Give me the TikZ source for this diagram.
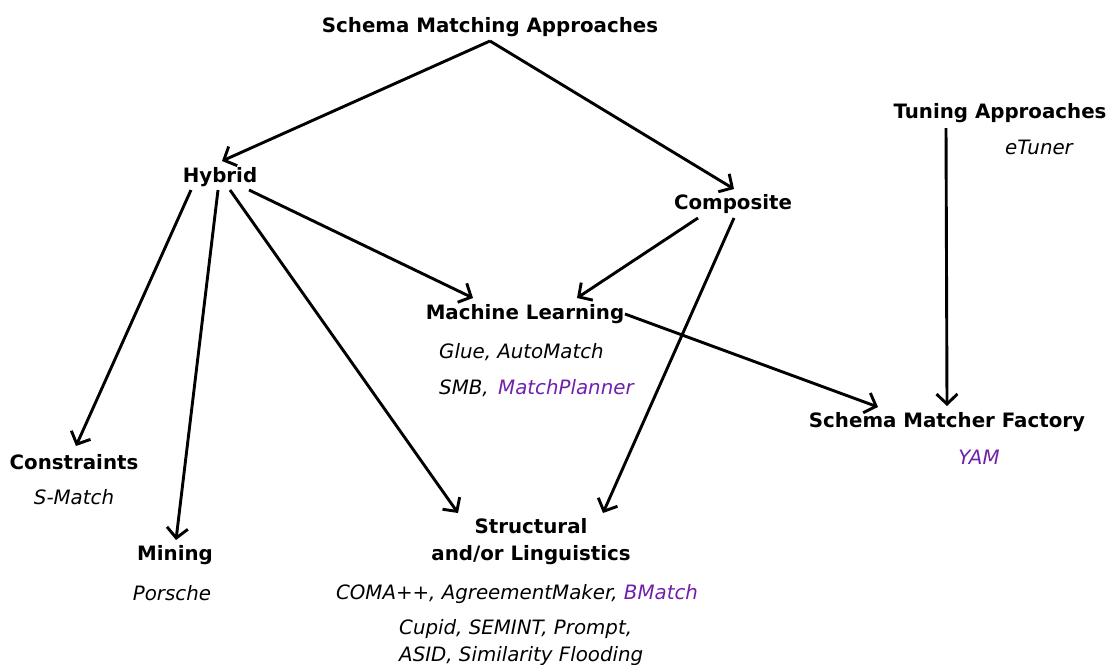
\documentclass[tikz,border=0pt]{standalone}
\usepackage{fontspec}
\setmainfont{DejaVu Sans}
\usetikzlibrary{arrows.meta,calc}
\definecolor{mpurple}{RGB}{112,32,170}
\begin{document}
\begin{tikzpicture}[x=1pt,y=-1pt,
  hd/.style={font=\fontsize{19.8}{27}\selectfont\bfseries, inner sep=0pt, align=center},
  it/.style={font=\fontsize{19.8}{27}\selectfont\itshape, inner sep=0pt, align=center},
  arr/.style={line width=2.9pt, -{Straight Barb[length=10pt,width=21pt]}}]
\useasboundingbox (0,0) rectangle (1107,664);
% headings
\node[hd] (sma) at (490,27) {Schema Matching Approaches};
\node[hd] (hyb) at (220,177) {Hybrid};
\node[hd] (comp) at (733,204) {Composite};
\node[hd] (tun) at (1000,113) {Tuning Approaches};
\node[it] (etun) at (1039,147) {eTuner};
\node[hd] (ml) at (525,314) {Machine Learning};
\node[it, anchor=west] (ml1) at (439,352) {Glue, AutoMatch};
\node[it, anchor=west] (ml2) at (439,388) {SMB,\hspace{9.5pt}\textcolor{mpurple}{MatchPlanner}};
\node[hd] (smf) at (947,422) {Schema Matcher Factory};
\node[it, text=mpurple] (yam) at (979,457) {YAM};
\node[hd] (con) at (74,462) {Constraints};
\node[it] (smatch) at (74,497) {S-Match};
\node[hd] (min) at (175,555) {Mining};
\node[it] (por) at (172,593) {Porsche};
\node[hd] (str) at (531,542) {Structural\\and/or Linguistics};
\node[it] (sl1) at (517,594) {COMA++, AgreementMaker, \textcolor{mpurple}{BMatch}};
\node[it, align=left, anchor=west] (sl2) at (399,643) {Cupid, SEMINT, Prompt,\\ASID, Similarity Flooding};
% connectors
\draw[arr] ($(sma.center)+(0,14)$) -- ($(hyb.center)+(2,-16)$);
\draw[arr] ($(sma.center)+(0,14)$) -- ($(comp.center)+(1,-15)$);
\draw[arr] ($(hyb.center)+(29,13)$) -- ($(ml.center)+(-52,-16)$);
\draw[arr] ($(hyb.center)+(-29,13)$) -- ($(con.center)+(2,-16)$);
\draw[arr] ($(hyb.center)+(-2,13)$) -- ($(min.center)+(1,-15)$);
\draw[arr] ($(hyb.center)+(10,13)$) -- ($(str.center)+(-73,-29)$);
\draw[arr] ($(comp.center)+(-35,14)$) -- ($(ml.center)+(52,-16)$);
\draw[arr] ($(comp.center)+(1,14)$) -- ($(str.center)+(72,-29)$);
\draw[arr] ($(ml.center)+(100,0)$) -- ($(smf.center)+(-69,-15)$);
\draw[arr] ($(tun.center)+(-54,15)$) -- ($(smf.center)+(0,-16)$);
\end{tikzpicture}
\end{document}
